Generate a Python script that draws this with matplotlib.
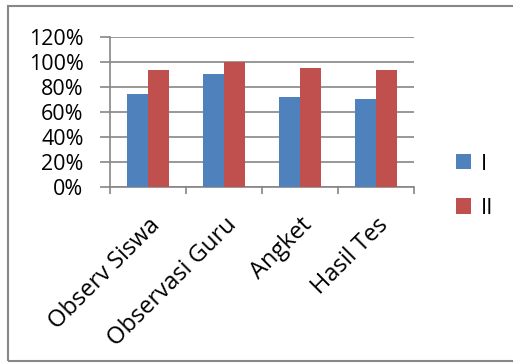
import matplotlib
matplotlib.use("Agg")
import matplotlib.pyplot as plt
from matplotlib.patches import Rectangle, Patch
from matplotlib.transforms import ScaledTranslation
import numpy as np

plt.rcParams['font.family'] = ['Open Sans', 'DejaVu Sans']

categories = ["Observ Siswa", "Observasi Guru", "Angket", "Hasil Tes"]
series_names = ["I", "II"]
values_I = [74, 90, 72, 70]
values_II = [93, 100, 95, 93]
y_ticks = [0, 20, 40, 60, 80, 100, 120]

blue = "#4F81BD"
red = "#C0504D"
grid_gray = "#868686"

fig = plt.figure(figsize=(5.13, 3.63), dpi=100)
ax = fig.add_axes([0.2144, 0.4848, 0.807 - 0.2144, 0.899 - 0.4848])

x = np.arange(len(categories))
w = 0.28
ax.bar(x - w / 2, values_I, width=w, color=blue, zorder=3)
ax.bar(x + w / 2, values_II, width=w, color=red, zorder=3)

ax.set_xlim(-0.5, len(categories) - 0.5)
ax.set_ylim(0, 120)
ax.set_yticks(y_ticks)
ax.set_yticklabels([f"{v}%" for v in y_ticks], fontsize=15.5)
ax.yaxis.grid(True, color=grid_gray, linewidth=1.2, zorder=0)
ax.set_axisbelow(True)

# category separators as ticks
ax.set_xticks(np.arange(len(categories) + 1) - 0.5)
ax.set_xticklabels([])
ax.tick_params(axis='x', length=5, color=grid_gray, width=1.2)
ax.tick_params(axis='y', length=7, color=grid_gray, width=1.2, pad=12)

# rotated category names, top-right corner placed just below each group
offset = ScaledTranslation(0.5 / 100, -26 / 100, fig.dpi_scale_trans)
for xi, cat in zip(x, categories):
    ax.text(xi, 0, cat, transform=ax.get_xaxis_transform() + offset,
            rotation=45, ha='right', va='top', rotation_mode='anchor',
            fontsize=17)

for side in ['top', 'right']:
    ax.spines[side].set_visible(False)
for side in ['left', 'bottom']:
    ax.spines[side].set_color(grid_gray)
    ax.spines[side].set_linewidth(1.2)

handles = [Patch(facecolor=blue), Patch(facecolor=red)]
fig.legend(handles, series_names, loc='upper left',
           bbox_to_anchor=(0.889, 0.577), frameon=False, fontsize=16,
           handlelength=0.68, handleheight=0.68, handletextpad=0.42,
           labelspacing=1.05, borderpad=0, borderaxespad=0)

fig.patches.append(Rectangle((8 / 513, 2 / 363), 1.2, (361 - 6) / 363,
                             transform=fig.transFigure, fill=False,
                             edgecolor="#878787", linewidth=1.5))

fig.savefig("out.png", dpi=100)
